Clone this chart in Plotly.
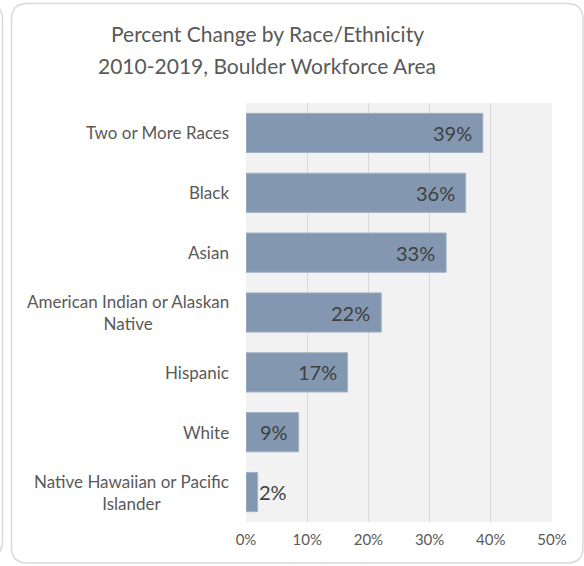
import plotly.graph_objects as go

# Percent change in population by race/ethnicity, 2010-2019
categories = [
    "Two or More Races",
    "Black",
    "Asian",
    "American Indian or Alaskan<br>Native",
    "Hispanic",
    "White",
    "Native Hawaiian or Pacific<br>Islander",
]
pct_change = [38.7, 35.9, 32.7, 22.1, 16.6, 8.6, 1.9]
x_ticks = [0, 10, 20, 30, 40, 50]
x_tick_labels = ["0%", "10%", "20%", "30%", "40%", "50%"]
title_lines = ["Percent Change by Race/Ethnicity", "2010-2019, Boulder Workforce Area"]

W, H = 584, 566
L, R, T, B = 246, 32, 103, 44
PW, PH = W - L - R, H - T - B

FONT = "Lato"
BAR = "#8497b0"
TXT = "#595959"
LBL = "#404040"
FRAME = "#d9d9d9"


def px(x):
    return (x - L) / PW


def py(y):
    return 1 - (y - T) / PH


def rounded_path(x0, y0, x1, y1, r):
    pts = [
        f"M {px(x0 + r)},{py(y0)}",
        f"L {px(x1 - r)},{py(y0)}",
        f"Q {px(x1)},{py(y0)} {px(x1)},{py(y0 + r)}",
        f"L {px(x1)},{py(y1 - r)}",
        f"Q {px(x1)},{py(y1)} {px(x1 - r)},{py(y1)}",
        f"L {px(x0 + r)},{py(y1)}",
        f"Q {px(x0)},{py(y1)} {px(x0)},{py(y1 - r)}",
        f"L {px(x0)},{py(y0 + r)}",
        f"Q {px(x0)},{py(y0)} {px(x0 + r)},{py(y0)}",
        "Z",
    ]
    return " ".join(pts)


fig = go.Figure(
    go.Bar(
        x=pct_change,
        y=categories,
        orientation="h",
        marker=dict(color=BAR, line=dict(color="#a3b1c4", width=1)),
        width=0.655,
        hoverinfo="skip",
    )
)

annotations = []
# value labels at the bar ends
for cat, v in zip(categories, pct_change):
    inside = v >= 5
    annotations.append(dict(
        x=v, y=cat, xref="x", yref="y",
        text=f"{v:.0f}%",
        showarrow=False,
        xanchor="right" if inside else "left",
        xshift=-9 if inside else -1,
        font=dict(family=FONT, size=20, color=LBL),
    ))

# category labels, centred line by line
for cat in categories:
    annotations.append(dict(
        x=0, y=cat, xref="paper", yref="y",
        text=cat,
        showarrow=False,
        xanchor="right",
        align="center",
        xshift=-15,
        font=dict(family=FONT, size=17, color=TXT),
    ))

# two-line chart title
for i, line in enumerate(title_lines):
    annotations.append(dict(
        x=px(267), y=py(33 + 32 * i), xref="paper", yref="paper",
        text=line, showarrow=False,
        xanchor="center", yanchor="middle",
        font=dict(family=FONT, size=21, color=TXT),
    ))

shapes = [
    # chart frame
    dict(type="path", xref="paper", yref="paper",
         path=rounded_path(11.5, 3.5, 583, 563, 16),
         line=dict(color=FRAME, width=1.5), layer="below"),
    # edge of the neighbouring panel
    dict(type="path", xref="paper", yref="paper",
         path=rounded_path(-300, 3.5, 2.5, 557, 16),
         line=dict(color=FRAME, width=1.5), layer="below"),
]

fig.update_layout(
    width=W, height=H,
    margin=dict(l=L, r=R, t=T, b=B),
    paper_bgcolor="white",
    plot_bgcolor="#f2f2f2",
    showlegend=False,
    annotations=annotations,
    shapes=shapes,
    xaxis=dict(
        range=[0, 50],
        tickvals=x_ticks,
        ticktext=x_tick_labels,
        showgrid=True, gridcolor=FRAME, gridwidth=1.3,
        zeroline=False, showline=False,
        tickfont=dict(family=FONT, size=15, color=TXT),
        ticks="", ticklabelstandoff=7,
        fixedrange=True,
    ),
    yaxis=dict(
        categoryorder="array", categoryarray=categories,
        autorange="reversed",
        showticklabels=False, showgrid=False,
        zeroline=False, showline=False,
        ticks="", fixedrange=True,
    ),
)

fig.write_html("out.html")
